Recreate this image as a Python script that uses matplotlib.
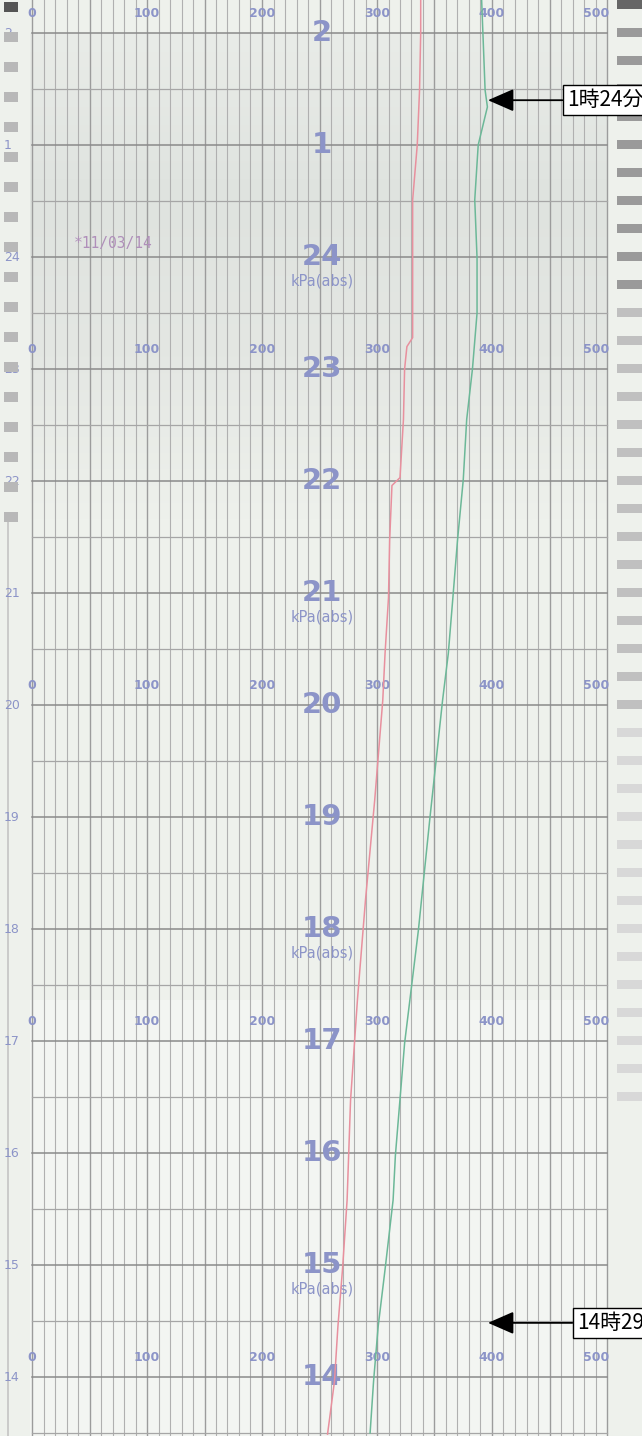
import matplotlib
matplotlib.use("Agg")
import matplotlib.pyplot as plt
import numpy as np
from matplotlib.patches import Rectangle
from matplotlib.colors import LinearSegmentedColormap

# ---------------- data ----------------
# time axis: continuous hours (24 = midnight, 25 = 1:00, 26 = 2:00)
hour_pos = [14, 15, 16, 17, 18, 19, 20, 21, 22, 23, 24, 25, 26]
hour_labels = ["14", "15", "16", "17", "18", "19", "20", "21", "22", "23", "24", "1", "2"]
scale_ticks = [0, 100, 200, 300, 400, 500]
scale_rows = [14, 17, 20, 23, 26]
unit_rows = [15, 18, 21, 24]
unit_label = "kPa(abs)"
date_stamp = "*11/03/14"

red_t = [26.29, 26.0, 25.49, 25.0, 24.51, 24.0, 23.28, 23.20, 23.0, 22.55, 22.03, 21.96,
         21.47, 20.96, 20.46, 20.04, 19.15, 18.26, 17.37, 16.47, 15.58, 14.96, 14.45, 13.96, 13.49]
red_v = [338, 338, 337, 335, 331, 331, 331, 326, 324, 323, 320, 313,
         311, 310, 307, 305, 298, 290, 283, 277, 274, 270, 266, 263, 257]

green_t = [26.29, 25.49, 25.34, 25.0, 24.51, 23.99, 23.5, 23.0, 22.55, 22.01, 21.47, 20.96,
           20.46, 20.04, 18.99, 17.99, 16.98, 15.98, 15.58, 14.96, 14.45, 13.96, 13.5]
green_v = [391, 394, 396, 388, 385, 387, 387, 383, 378, 375, 370, 366,
           362, 357, 346, 336, 324, 316, 314, 307, 301, 297, 294]

ann_text = ["1時24分", "14時29分"]
ann_time = [25 + 24 / 60, 14 + 29 / 60]

# ---------------- layout helpers ----------------
W, H = 642, 1436
def X(px):
    return (px - 32) / 1.15
def Y(py):
    return 26 + (33 - py) / 112.0

fig = plt.figure(figsize=(W / 100, H / 100), dpi=100)
ax = fig.add_axes([0, 0, 1, 1])
ax.set_xlim(X(0), X(W))
ax.set_ylim(Y(H), Y(0))
ax.axis("off")

paper = "#eef1ec"
fig.patch.set_facecolor(paper)
ax.set_facecolor(paper)

# shaded upper region of the scan
grad = np.linspace(0, 1, 200).reshape(-1, 1)
cm = LinearSegmentedColormap.from_list("g", ["#e9ece8", "#dfe3df", "#e4e7e3", "#eef1ec"])
ax.imshow(grad, cmap=cm, aspect="auto", extent=[X(30), X(607), Y(520), Y(33)], zorder=0)
ax.add_patch(Rectangle((X(30), Y(H)), X(607) - X(30), Y(1000) - Y(H), color="#f3f5f2", zorder=0, lw=0))

# grid
t_lo, t_hi = Y(H), Y(0)
for v in range(0, 501, 10):
    c = "#9c9c9c" if v % 50 == 0 else "#b0b0b0"
    lw = 1.0 if v % 50 == 0 else 0.8
    ax.plot([v, v], [t_lo, t_hi], color=c, lw=lw, zorder=1)
for h in np.arange(13.5, 26.01, 0.5):
    if float(h).is_integer():
        ax.plot([0, 500], [h, h], color="#8a8a8a", lw=1.1, zorder=1)
    else:
        ax.plot([0, 500], [h, h], color="#a6a6a6", lw=0.9, zorder=1)

blue = "#8c94c8"
# big hour numbers
for p, lab in zip(hour_pos, hour_labels):
    ax.text(252, p, lab, color=blue, fontsize=21, fontweight="bold",
            ha="center", va="center", zorder=2)
    ax.text(X(4), p, lab, color=blue, fontsize=9, ha="left", va="center", zorder=2)
# scale rows
for r in scale_rows:
    for v in scale_ticks:
        ha = "center"
        xx = v
        if v == 0:
            ha, xx = "left", X(27)
        if v == 500:
            ha, xx = "right", X(609)
        ax.text(xx, r + 0.17, str(v), color=blue, fontsize=9, fontweight="bold",
                ha=ha, va="center", zorder=2)
for r in unit_rows:
    ax.text(252, r - 0.21, unit_label, color=blue, fontsize=10.5, ha="center", va="center", zorder=2)

ax.text(X(74), Y(243), date_stamp, color="#b08fba", fontsize=10.5, family="DejaVu Sans Mono",
        ha="left", va="center", zorder=2)

# side strips (scan decorations)
for py in range(2, 520, 30):
    ax.add_patch(Rectangle((X(4), Y(py + 10)), X(18) - X(4), Y(py) - Y(py + 10),
                           color="#b8b8b8" if py > 2 else "#555555", lw=0, zorder=2))
ax.plot([X(8), X(8)], [Y(H), Y(520)], color="#c4c4c4", lw=1.2, zorder=1)
for py in range(0, 1120, 28):
    col = "#9a9a9a" if py < 300 else ("#c0c0c0" if py < 720 else "#d8d8d8")
    if py == 0:
        col = "#666666"
    ax.add_patch(Rectangle((X(617), Y(py + 9)), X(W) - X(617), Y(py) - Y(py + 9),
                           color=col, lw=0, zorder=2))

# recorded traces
ax.plot(red_v, red_t, color="#e8909e", lw=1.1, zorder=3)
ax.plot(green_v, green_t, color="#6cb898", lw=1.1, zorder=3)

# annotations (boxes run past the right edge, as in the scan)
box_left = [563, 573]
for txt, t, bl in zip(ann_text, ann_time, box_left):
    ax.annotate(txt, xy=(X(488), t), xytext=(X(bl + 4), t),
                ha="left", va="center", fontsize=15,
                family=["Noto Sans CJK JP", "DejaVu Sans"], color="black",
                bbox=dict(boxstyle="square,pad=0.2", fc="white", ec="black", lw=1.0),
                arrowprops=dict(arrowstyle="-|>,head_length=0.8,head_width=0.35",
                                color="black", lw=1.3, shrinkA=0, shrinkB=0,
                                mutation_scale=20),
                zorder=5, annotation_clip=False)

fig.savefig("out.png", dpi=100, facecolor=fig.get_facecolor())
